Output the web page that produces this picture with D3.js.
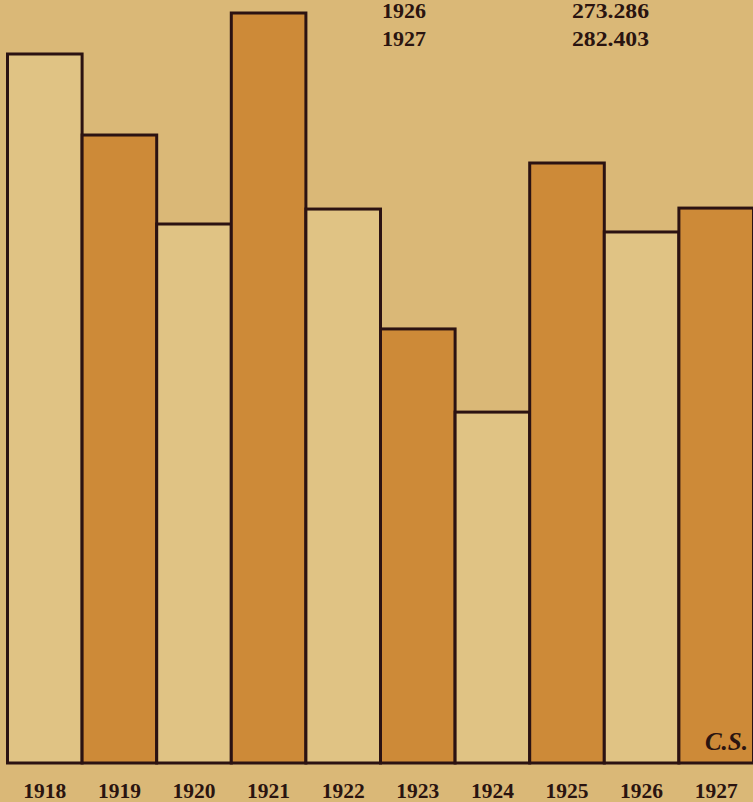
<!DOCTYPE html>
<html>
<head>
<meta charset="utf-8">
<script src="https://cdn.jsdelivr.net/npm/d3@7"></script>
<style>
  html, body { margin: 0; padding: 0; background: #dab877; }
  svg { display: block; }
</style>
</head>
<body>
<div id="chart"></div>
<script>
// Data (bar heights, in the units of the table)
const years = ["1918","1919","1920","1921","1922","1923","1924","1925","1926","1927"];
const values = [364.9, 323.2, 277.4, 386.0, 285.1, 223.4, 180.6, 308.8, 273.3, 285.6];
const shaded = [false, true, false, true, false, true, false, true, false, true];
const tableYears = ["1926", "1927"];
const tableValues = ["273.286", "282.403"];
const signature = "C.S.";

const W = 753, H = 802;
const svg = d3.select("#chart").append("svg").attr("width", W).attr("height", H);

// background
svg.append("rect").attr("width", W).attr("height", H).attr("fill", "#dab877");

const x = d3.scaleBand().domain(years).range([7.5, 753.5]).padding(0);
const y = d3.scaleLinear().domain([0, 400]).range([763, 763 - 400 * 1.943]);

const data = years.map((yr, i) => ({ year: yr, value: values[i], shaded: shaded[i] }));

svg.append("g").selectAll("rect").data(data).join("rect")
  .attr("x", d => x(d.year))
  .attr("y", d => y(d.value))
  .attr("width", x.bandwidth())
  .attr("height", d => y(0) - y(d.value))
  .attr("fill", d => d.shaded ? "#cd8a38" : "#e0c384")
  .attr("stroke", "#2b1212")
  .attr("stroke-width", 3);

// x axis labels
const axis = d3.axisBottom(x).tickSize(0).tickPadding(0);
const gx = svg.append("g").attr("transform", `translate(0, ${y(0)})`).call(axis);
gx.select(".domain").remove();
gx.selectAll("text")
  .attr("y", 35)
  .attr("dy", 0)
  .attr("fill", "#2a1410")
  .attr("textLength", 43)
  .attr("lengthAdjust", "spacingAndGlyphs")
  .style("font-family", "'Liberation Serif', 'DejaVu Serif', serif")
  .style("font-weight", "bold")
  .style("font-size", "22px");

// top table
const tbl = svg.append("g")
  .style("font-family", "'Liberation Serif', 'DejaVu Serif', serif")
  .style("font-weight", "bold")
  .style("font-size", "20px")
  .attr("fill", "#2a1410");
tbl.selectAll("text.yr").data(tableYears).join("text")
  .attr("class", "yr")
  .attr("x", 382)
  .attr("y", (d, i) => 18 + i * 28)
  .attr("textLength", 44)
  .attr("lengthAdjust", "spacingAndGlyphs")
  .text(d => d);
tbl.selectAll("text.val").data(tableValues).join("text")
  .attr("class", "val")
  .attr("x", 572)
  .attr("y", (d, i) => 18 + i * 28)
  .attr("textLength", 77)
  .attr("lengthAdjust", "spacingAndGlyphs")
  .text(d => d);

// signature
svg.append("text")
  .attr("x", 748)
  .attr("y", 750)
  .attr("text-anchor", "end")
  .attr("fill", "#2a1410")
  .style("font-family", "'Liberation Serif', 'DejaVu Serif', serif")
  .style("font-style", "italic")
  .style("font-weight", "bold")
  .style("font-size", "25px")
  .text(signature);
</script>
</body>
</html>
